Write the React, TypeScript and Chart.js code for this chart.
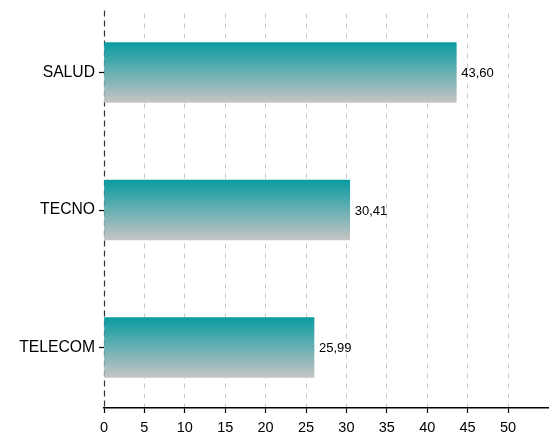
import React, { useEffect, useRef } from "react";
import { Chart, registerables } from "chart.js";

Chart.register(...registerables);

const categories = ["SALUD", "TECNO", "TELECOM"];
const values = [43.6, 30.41, 25.99];
const xTickMax = 54.95;
const xTickStep = 5;

const FONT = "'Liberation Sans', Arial, Helvetica, sans-serif";

const valueLabels = {
  id: "valueLabels",
  afterDatasetsDraw(chart: any) {
    const { ctx } = chart;
    const meta = chart.getDatasetMeta(0);
    ctx.save();
    ctx.font = `13px ${FONT}`;
    ctx.fillStyle = "#000";
    ctx.textAlign = "left";
    ctx.textBaseline = "middle";
    meta.data.forEach((el: any, i: number) => {
      const v = values[i];
      ctx.fillText(v.toFixed(2).replace(".", ","), el.x + 5, el.y + 1);
    });
    ctx.restore();
  },
};

const zeroLine = {
  id: "zeroLine",
  beforeDatasetsDraw(chart: any) {
    const { ctx, chartArea, scales } = chart;
    const x = Math.round(scales.x.getPixelForValue(0)) + 0.5;
    ctx.save();
    ctx.strokeStyle = "#333";
    ctx.lineWidth = 1.2;
    ctx.setLineDash([6, 4]);
    ctx.beginPath();
    ctx.moveTo(x, chartArea.top - 3);
    ctx.lineTo(x, chartArea.bottom);
    ctx.stroke();
    ctx.restore();
  },
};

export default function App() {
  const ref = useRef<HTMLCanvasElement | null>(null);

  useEffect(() => {
    document.body.style.margin = "0";
    if (!ref.current) return;
    const chart = new Chart(ref.current, {
      type: "bar",
      data: {
        datasets: [
          {
            data: values.map((v, i) => ({ x: v, y: i })),
            barThickness: 60,
            borderWidth: 0,
            backgroundColor: (c: any) => {
              const ch = c.chart;
              const ys = ch.scales?.y;
              if (!ys || c.type !== "data") return "#0a9da2";
              const cy = ys.getPixelForValue(c.dataIndex);
              if (!Number.isFinite(cy)) return "#0a9da2";
              const g = ch.ctx.createLinearGradient(0, cy - 30, 0, cy + 30);
              g.addColorStop(0, "#0a9ca1");
              g.addColorStop(1, "#c6c4c4");
              return g;
            },
          } as any,
        ],
      },
      options: {
        animation: false,
        responsive: false,
        indexAxis: "y",
        layout: { padding: { top: 10, right: 9, left: 0, bottom: 0 } },
        plugins: {
          legend: { display: false },
          tooltip: { enabled: false },
        },
        scales: {
          x: {
            type: "linear",
            min: 0,
            max: xTickMax,
            offset: false,
            afterFit: (s: any) => {
              s.height = 27;
            },
            ticks: {
              stepSize: xTickStep,
              includeBounds: false,
              color: "#000",
              padding: 6,
              font: { family: FONT, size: 14.5 },
            },
            grid: {
              offset: false,
              color: (c: any) => (c.tick && c.tick.value === 0 ? "rgba(0,0,0,0)" : "#c8c8c8"),
              lineWidth: 1,
              tickColor: "#000",
              tickLength: 5,
              tickWidth: 1.2,
              tickBorderDash: [],
            },
            border: { display: true, color: "#000", width: 1.4, dash: [5, 5] },
          },
          y: {
            type: "linear",
            reverse: true,
            offset: false,
            min: -0.43,
            max: 2.44,
            afterFit: (s: any) => {
              s.width = 104;
            },
            ticks: {
              stepSize: 1,
              includeBounds: false,
              color: "#000",
              padding: 4,
              font: { family: FONT, size: 15.7 },
              callback: (v: any) => {
                const n = Number(v);
                return Number.isInteger(n) && categories[n] !== undefined ? categories[n] : "";
              },
            },
            grid: {
              display: true,
              offset: false,
              drawOnChartArea: false,
              drawTicks: true,
              tickLength: 5,
              tickColor: "#000",
              tickWidth: 1.2,
            },
            border: { display: false },
          },
        },
      },
      plugins: [zeroLine, valueLabels],
    } as any);
    return () => chart.destroy();
  }, []);

  return (
    <div style={{ width: 557, height: 435 }}>
      <canvas ref={ref} width={557} height={435} style={{ display: "block" }} />
    </div>
  );
}
